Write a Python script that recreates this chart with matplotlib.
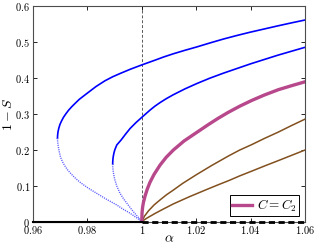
import matplotlib
matplotlib.use("Agg")
import matplotlib.pyplot as plt
from matplotlib.ticker import FuncFormatter

plt.rcParams['mathtext.fontset'] = 'cm'
plt.rcParams['font.family'] = 'serif'

# outer blue branch: upper part solid, lower part dotted
outer_hi_a = [0.96900, 0.96905, 0.96920, 0.96950, 0.96990, 0.97050, 0.97120, 0.97210,
              0.97310, 0.97430, 0.97550, 0.97700, 0.97870, 0.98060, 0.98320, 0.98650,
              0.98930, 0.99200, 0.99580, 1.00000, 1.00480, 1.00800, 1.01160, 1.01600,
              1.02020, 1.02500, 1.03000, 1.03500, 1.03980, 1.04500, 1.04960, 1.05500,
              1.06000]
outer_hi_v = [0.232, 0.240, 0.250, 0.260, 0.270, 0.280, 0.290, 0.300,
              0.310, 0.320, 0.329, 0.340, 0.350, 0.361, 0.376, 0.392,
              0.403, 0.412, 0.424, 0.436, 0.449, 0.458, 0.467, 0.477,
              0.486, 0.497, 0.508, 0.518, 0.527, 0.536, 0.544, 0.553,
              0.561]
outer_lo_a = [0.96900, 0.96905, 0.96920, 0.96940, 0.96970, 0.97010, 0.97080, 0.97170,
              0.97280, 0.97420, 0.97580, 0.97750, 0.98030, 0.98340, 0.98700, 0.99080,
              0.99320, 0.99570, 0.99800, 1.00000]
outer_lo_v = [0.232, 0.224, 0.214, 0.204, 0.193, 0.180, 0.167, 0.155,
              0.143, 0.131, 0.119, 0.108, 0.093, 0.0785, 0.062, 0.046,
              0.034, 0.023, 0.011, 0.0]

# inner blue branch
inner_hi_a = [0.98930, 0.98933, 0.98942, 0.98958, 0.98980, 0.99010, 0.99080, 0.99240,
              0.99400, 0.99570, 0.99780, 1.00000, 1.00150, 1.00300, 1.00480, 1.00670,
              1.00900, 1.01160, 1.01580, 1.02020, 1.02500, 1.03000, 1.03500, 1.04000,
              1.04500, 1.05000, 1.05500, 1.06000]
inner_hi_v = [0.160, 0.168, 0.176, 0.184, 0.192, 0.200, 0.213, 0.227,
              0.243, 0.259, 0.275, 0.290, 0.300, 0.310, 0.321, 0.331,
              0.342, 0.353, 0.369, 0.384, 0.399, 0.413, 0.426, 0.439,
              0.451, 0.463, 0.474, 0.485]
inner_lo_a = [0.98930, 0.98933, 0.98942, 0.98956, 0.98980, 0.99010, 0.99090, 0.99200,
              0.99340, 0.99500, 0.99620, 0.99750, 0.99880, 1.00000]
inner_lo_v = [0.160, 0.152, 0.144, 0.136, 0.126, 0.116, 0.097, 0.0785,
              0.062, 0.046, 0.034, 0.022, 0.011, 0.0]

# C = C2 curve
mag_a = [1.00000, 1.00005, 1.00010, 1.00030, 1.00060, 1.00120, 1.00200, 1.00300,
         1.00450, 1.00670, 1.00900, 1.01160, 1.01550, 1.01960, 1.02450, 1.02800,
         1.03180, 1.03600, 1.04040, 1.04500, 1.05020, 1.05500, 1.06000]
mag_v = [0.0, 0.015, 0.025, 0.040, 0.053, 0.071, 0.090, 0.109,
         0.131, 0.157, 0.179, 0.199, 0.224, 0.245, 0.270, 0.287,
         0.304, 0.321, 0.337, 0.352, 0.367, 0.378, 0.389]

# brown curves
brown1_a = [1.0000, 1.0010, 1.0025, 1.0045, 1.0067, 1.0090, 1.0115, 1.0150, 1.0200,
            1.0257, 1.0320, 1.0360, 1.0404, 1.0450, 1.0502, 1.0550, 1.0600]
brown1_v = [0.0, 0.015, 0.030, 0.046, 0.060, 0.074, 0.087, 0.106, 0.130,
            0.156, 0.183, 0.199, 0.214, 0.231, 0.249, 0.267, 0.285]
brown2_a = [1.0000, 1.0020, 1.0050, 1.0080, 1.0116, 1.0175, 1.0235, 1.0280, 1.0320,
            1.0360, 1.0400, 1.0456, 1.0500, 1.0550, 1.0600]
brown2_v = [0.0, 0.010, 0.023, 0.035, 0.049, 0.069, 0.088, 0.102, 0.114,
            0.127, 0.139, 0.156, 0.169, 0.184, 0.199]

# trivial branch 1 - S = 0
zero_stable_a = [0.96, 1.0]
zero_unstable_a = [1.0, 1.06]

xticks = [0.96, 0.98, 1.0, 1.02, 1.04, 1.06]
yticks = [0, 0.1, 0.2, 0.3, 0.4, 0.5, 0.6]

blue = '#0000ff'
light_blue = '#5a5aff'
magenta = '#b8488c'
brown = '#82501e'

fig = plt.figure(figsize=(3.16, 2.45), dpi=100)
ax = fig.add_axes([0.1044, 0.0959, 0.8608, 0.8796])

ax.axvline(1.0, color='0.35', lw=0.7, dashes=(3, 2), zorder=1)

ax.plot(outer_hi_a, outer_hi_v, color=blue, lw=1.2)
ax.plot(outer_lo_a, outer_lo_v, color=light_blue, lw=1.0, linestyle=(0, (0.8, 0.8)))
ax.plot(inner_hi_a, inner_hi_v, color=blue, lw=1.2)
ax.plot(inner_lo_a, inner_lo_v, color=light_blue, lw=1.0, linestyle=(0, (0.8, 0.8)))
ax.plot(brown1_a, brown1_v, color=brown, lw=1.1)
ax.plot(brown2_a, brown2_v, color=brown, lw=1.1)
ax.plot(mag_a, mag_v, color=magenta, lw=2.4, label=r'$C = C_2$')

ax.plot(zero_stable_a, [0, 0], color='black', lw=1.5, clip_on=False, zorder=5)
ax.plot(zero_unstable_a, [0, 0], color='black', lw=2.0, dashes=(2.2, 1.3),
        clip_on=False, zorder=5)

ax.set_xlim(0.96, 1.06)
ax.set_ylim(0, 0.6)
ax.set_xticks(xticks)
ax.set_yticks(yticks)
fmt = FuncFormatter(lambda v, pos: r'$%g$' % round(v, 4))
ax.xaxis.set_major_formatter(fmt)
ax.yaxis.set_major_formatter(fmt)
ax.tick_params(direction='in', top=True, right=True, length=3, width=0.6,
               labelsize=7.5, colors='black')
ax.tick_params(axis='x', pad=1.5)
ax.tick_params(axis='y', pad=2)
for s in ax.spines.values():
    s.set_linewidth(0.8)
    s.set_color('0.3')

ax.set_xlabel(r'$\alpha$', fontsize=10, labelpad=-3)
ax.set_ylabel(r'$1 - S$', fontsize=10, labelpad=0)

leg = ax.legend(loc='lower right', fontsize=9.5, frameon=True, fancybox=False,
                edgecolor='black', framealpha=1, handlelength=1.5,
                handletextpad=0.4, borderpad=0.15, borderaxespad=0.45)
leg.get_frame().set_linewidth(0.7)

fig.savefig('out.png', dpi=100)
